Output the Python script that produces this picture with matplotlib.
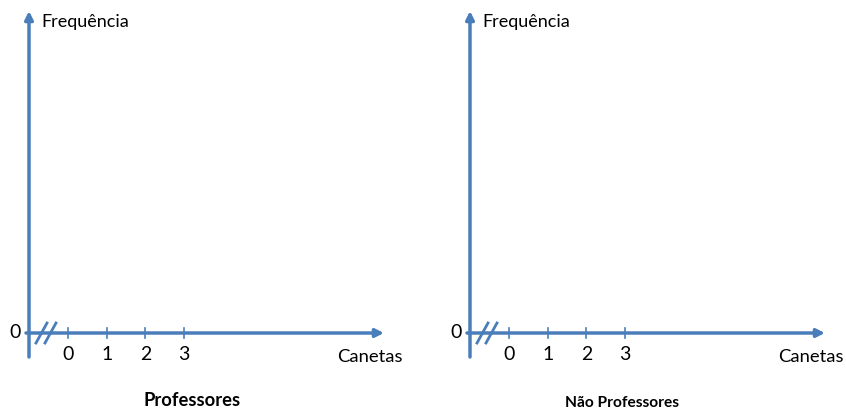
import matplotlib.pyplot as plt

# chart content
panel_titles = ['Professores', 'Não Professores']
x_ticks = [0, 1, 2, 3]
x_label = 'Canetas'
y_label = 'Frequência'
y_ticks = [0]

blue = '#4a7ebb'
plt.rcParams['font.family'] = ['Lato', 'DejaVu Sans']

W, H = 846, 412
fig = plt.figure(figsize=(W / 100, H / 100), dpi=100)

unit = 38.67      # pixels per unit on the x axis
org_x = 68        # pixel of x = 0 inside a panel
org_y = 333       # pixel (from top) of y = 0


def px(x):
    return (x - org_x) / unit


def py(y):
    return (org_y - y) / unit


def draw_panel(x0, title, title_x, title_y, title_size):
    ax = fig.add_axes([x0 / W, 0, 405 / W, 1])
    ax.set_xlim(px(0), px(405))
    ax.set_ylim(py(H), py(0))
    ax.axis('off')

    # axes with arrow heads
    ax.annotate('', xy=(px(29), py(11)), xytext=(px(29), py(357)),
                arrowprops=dict(arrowstyle='-|>', color=blue, lw=2.5,
                                mutation_scale=12, shrinkA=0, shrinkB=0))
    ax.annotate('', xy=(px(384), 0), xytext=(px(26), 0),
                arrowprops=dict(arrowstyle='-|>', color=blue, lw=2.5,
                                mutation_scale=12, shrinkA=0, shrinkB=0))

    # ticks
    for t in x_ticks:
        ax.plot([t, t], [-0.13, 0.13], color=blue, lw=1.2)
        ax.text(t, py(355), str(t), ha='center', va='center', fontsize=14)
    for t in y_ticks:
        ax.text(px(15), t, str(t), ha='center', va='center', fontsize=14)

    # axis break
    for dx in (0, 9):
        ax.plot([px(36 + dx), px(47 + dx)], [py(343), py(323)], color=blue, lw=2)

    ax.text(px(41), py(22), y_label, ha='left', va='center', fontsize=13)
    ax.text(px(370), py(357), x_label, ha='center', va='center', fontsize=13.3)
    ax.text(px(title_x), py(title_y), title, ha='center', va='center',
            fontsize=title_size, fontweight='bold')


draw_panel(0, panel_titles[0], 192, 400, 13.2)
draw_panel(441, panel_titles[1], 181, 403, 11.2)

fig.savefig('out.png', dpi=100)
